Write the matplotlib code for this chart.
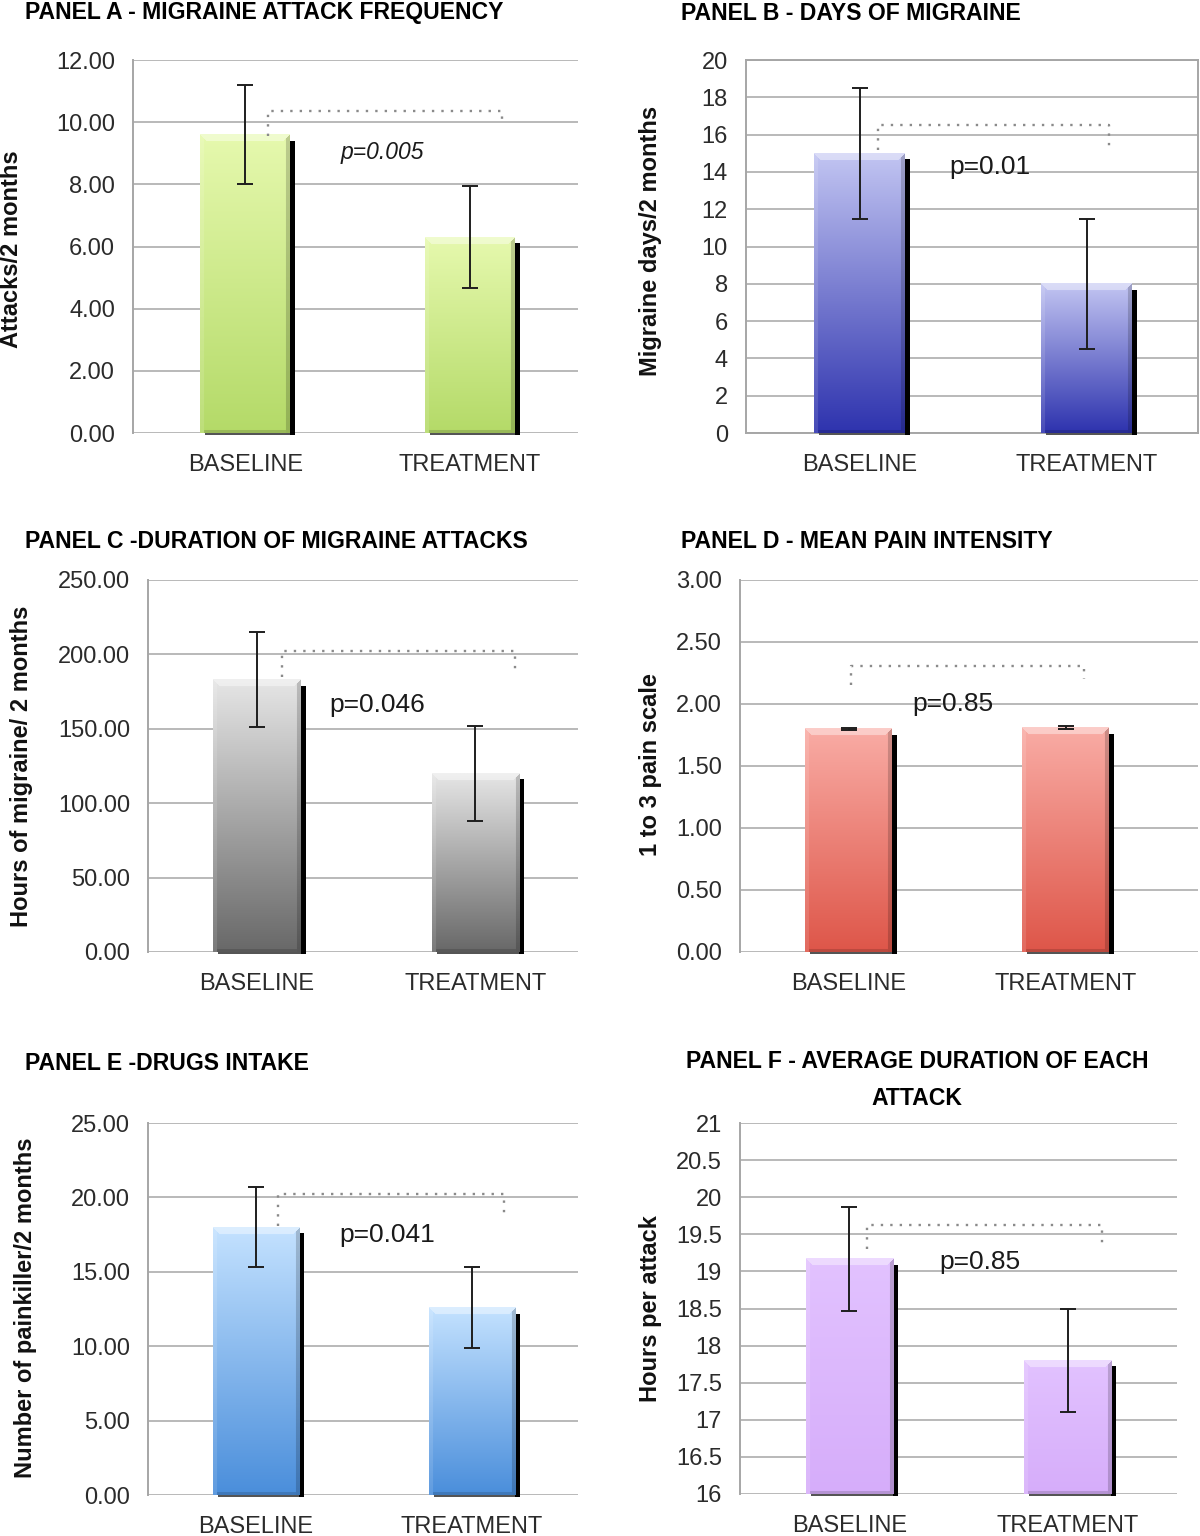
import numpy as np
import matplotlib
matplotlib.use('Agg')
import matplotlib.pyplot as plt
from matplotlib.colors import to_rgb
from matplotlib.patches import Rectangle

plt.rcParams['font.family'] = ['Liberation Sans', 'DejaVu Sans']

W, H = 1200, 1536

# ---------------- data ----------------
categories = ['BASELINE', 'TREATMENT']

a_means = [9.6, 6.3]
a_errs = [1.6, 1.65]
a_p = 'p=0.005'
a_ticks = [0, 2, 4, 6, 8, 10, 12]

b_means = [15.0, 8.0]
b_errs = [3.5, 3.5]
b_p = 'p=0.01'
b_ticks = [0, 2, 4, 6, 8, 10, 12, 14, 16, 18, 20]

c_means = [183.0, 120.0]
c_errs = [32.0, 32.0]
c_p = 'p=0.046'
c_ticks = [0, 50, 100, 150, 200, 250]

d_means = [1.80, 1.81]
d_errs = [0.01, 0.01]
d_p = 'p=0.85'
d_ticks = [0, 0.5, 1.0, 1.5, 2.0, 2.5, 3.0]

e_means = [18.0, 12.6]
e_errs = [2.7, 2.7]
e_p = 'p=0.041'
e_ticks = [0, 5, 10, 15, 20, 25]

f_means = [19.17, 17.8]
f_errs = [0.7, 0.7]
f_p = 'p=0.85'
f_ticks = [16, 16.5, 17, 17.5, 18, 18.5, 19, 19.5, 20, 20.5, 21]

# ---------------- styling / layout ----------------
panels = [
    dict(title='PANEL A - MIGRAINE ATTACK FREQUENCY', title_xy=(25, 13), title_ha='left',
         rect=(133, 578, 60, 433), xlim=(-0.5, 1.48), means=a_means, errs=a_errs,
         ticks=a_ticks, fmt='{:.2f}', colors=('#e6f9ae', '#b4da68'),
         ylabel='Attacks/2 months', ylabel_xy=(12, 249),
         bracket=(0.10, 1.14, 10.35, 9.55, 9.9), p=a_p, p_xy=(0.61, 9.04), p_style='italic', p_size=16.5,
         box=False),
    dict(title='PANEL B - DAYS OF MIGRAINE', title_xy=(681, 13), title_ha='left',
         rect=(746, 1198, 60, 433), xlim=(-0.5, 1.49), means=b_means, errs=b_errs,
         ticks=b_ticks, fmt='{:g}', colors=('#c2c5f2', '#2e33ae'),
         ylabel='Migraine days/2 months', ylabel_xy=(650, 241),
         bracket=(0.08, 1.10, 16.5, 15.2, 15.3), p=b_p, p_xy=(0.573, 14.26), p_style='normal', p_size=19,
         box=True),
    dict(title='PANEL C -DURATION OF MIGRAINE ATTACKS', title_xy=(25, 541), title_ha='left',
         rect=(148, 578, 580, 952), xlim=(-0.5, 1.47), means=c_means, errs=c_errs,
         ticks=c_ticks, fmt='{:.2f}', colors=('#e6e6e6', '#686868'),
         ylabel='Hours of migraine/ 2 months', ylabel_xy=(22, 766),
         bracket=(0.115, 1.18, 202, 185, 188), p=c_p, p_xy=(0.55, 166), p_style='normal', p_size=19,
         box=False),
    dict(title='PANEL D - MEAN PAIN INTENSITY', title_xy=(681, 541), title_ha='left',
         rect=(740, 1198, 580, 952), xlim=(-0.5, 1.61), means=d_means, errs=d_errs,
         ticks=d_ticks, fmt='{:.2f}', colors=('#f9aca5', '#de5649'),
         ylabel='1 to 3 pain scale', ylabel_xy=(650, 765),
         bracket=(0.01, 1.083, 2.31, 2.15, 2.2), p=d_p, p_xy=(0.479, 2.0), p_style='normal', p_size=19,
         box=False),
    dict(title='PANEL E -DRUGS INTAKE', title_xy=(25, 1064), title_ha='left',
         rect=(148, 578, 1123, 1495), xlim=(-0.5, 1.49), means=e_means, errs=e_errs,
         ticks=e_ticks, fmt='{:.2f}', colors=('#c4e2ff', '#4a8edb'),
         ylabel='Number of painkiller/2 months', ylabel_xy=(26, 1308),
         bracket=(0.10, 1.148, 20.2, 18.1, 18.9), p=e_p, p_xy=(0.606, 17.5), p_style='normal', p_size=19,
         box=False),
    dict(title='PANEL F - AVERAGE DURATION OF EACH\nATTACK', title_xy=(917, 1080), title_ha='center',
         rect=(740, 1177, 1123, 1494), xlim=(-0.5, 1.5), means=f_means, errs=f_errs,
         ticks=f_ticks, fmt='{:g}', colors=('#e2c2ff', '#d6adfa'),
         ylabel='Hours per attack', ylabel_xy=(650, 1309),
         bracket=(0.08, 1.155, 19.63, 19.3, 19.33), p=f_p, p_xy=(0.598, 19.13), p_style='normal', p_size=19,
         box=False),
]

fig = plt.figure(figsize=(W / 100, H / 100), dpi=100)
fig.patch.set_facecolor('white')

GRID = '#b9b9b9'
SPINE = '#a6a6a6'
TXT = '#2b2b2b'
BAR_W = 0.4


def bar_image(top_c, bot_c, nrows, ncols):
    top = np.array(to_rgb(top_c))
    bot = np.array(to_rgb(bot_c))
    t = np.linspace(0, 1, nrows)[:, None, None]
    img = top * (1 - t) + bot * t
    img = np.broadcast_to(img, (nrows, ncols, 3)).copy()
    r, c = np.mgrid[0:nrows, 0:ncols]
    band = 7
    topband = (r < band) & (r <= c) & (r <= ncols - 1 - c)
    left = (c < 4) & (c < r) & ~topband
    right = (c > ncols - 5) & ((ncols - 1 - c) < r) & ~topband
    bottom = (r > nrows - 4) & ~left & ~right
    white = np.ones(3)
    img[topband] = img[topband] * 0.6 + white * 0.4
    img[left] = img[left] * 0.88 + white * 0.12
    img[right] = img[right] * 0.82
    img[bottom] = img[bottom] * 0.85
    return np.clip(img, 0, 1)


for P in panels:
    l, r, t, b = P['rect']
    ax = fig.add_axes([l / W, 1 - b / H, (r - l) / W, (b - t) / H])
    ticks = P['ticks']
    y0, y1 = ticks[0], ticks[-1]
    wpx, hpx = r - l, b - t
    dxp = (P['xlim'][1] - P['xlim'][0]) / wpx
    dyp = (y1 - y0) / hpx

    xs = np.arange(len(categories))
    for x, v in zip(xs, P['means']):
        x0, x1 = x - BAR_W / 2, x + BAR_W / 2
        nrows = max(int((v - y0) / dyp), 2)
        ncols = max(int(BAR_W / dxp), 2)
        img = bar_image(P['colors'][0], P['colors'][1], nrows, ncols)
        ax.imshow(img, extent=(x0, x1, y0, v), aspect='auto', zorder=3, interpolation='bilinear')
        # drop shadow on the right
        ax.add_patch(Rectangle((x1, y0 - 2 * dyp), 5 * dxp, (v - y0) - 4 * dyp,
                               facecolor='black', edgecolor='none', zorder=2.8, clip_on=False))
        ax.add_patch(Rectangle((x0 + 5 * dxp, y0 - 2 * dyp), BAR_W, 2 * dyp,
                               facecolor='#555555', edgecolor='none', zorder=2.7, clip_on=False))

    ax.errorbar(xs, P['means'], yerr=P['errs'], fmt='none', ecolor='#1e1e1e',
                elinewidth=1.4, capsize=6, capthick=1.4, zorder=5)

    bx0, bx1, byh, byl, byr = P['bracket']
    ax.plot([bx0, bx0, bx1, bx1], [byl, byh, byh, byr], color='#8a8a8a',
            linestyle=(0, (1, 3)), lw=1.7, zorder=4)
    ax.text(P['p_xy'][0], P['p_xy'][1], P['p'], fontsize=P['p_size'], style=P['p_style'],
            color='#1a1a1a', ha='center', va='center', zorder=6)

    ax.set_xlim(*P['xlim'])
    ax.set_ylim(y0, y1)
    ax.set_xticks(xs)
    ax.set_xticklabels(categories)
    ax.set_yticks(ticks)
    ax.set_yticklabels([P['fmt'].format(v) for v in ticks])
    ax.tick_params(axis='both', length=0, labelsize=17, labelcolor=TXT)
    ax.tick_params(axis='y', pad=13)
    ax.tick_params(axis='x', pad=15)
    ax.set_axisbelow(True)
    ax.yaxis.grid(True, color=GRID, lw=1.4)
    ax.set_facecolor('white')
    for s in ['top', 'right', 'bottom']:
        ax.spines[s].set_visible(P['box'])
        ax.spines[s].set_color(SPINE)
        ax.spines[s].set_linewidth(1.4)
    ax.spines['left'].set_color(SPINE)
    ax.spines['left'].set_linewidth(1.4)

    fig.text(P['ylabel_xy'][0] / W, 1 - P['ylabel_xy'][1] / H, P['ylabel'], rotation=90,
             fontsize=17, fontweight='bold', color='#111111', ha='center', va='center')
    fig.text(P['title_xy'][0] / W, 1 - P['title_xy'][1] / H, P['title'], fontsize=16.6,
             fontweight='bold', color='black', ha=P['title_ha'], va='center',
             multialignment='center', linespacing=1.75)

fig.savefig('out.png', dpi=100, facecolor='white')
